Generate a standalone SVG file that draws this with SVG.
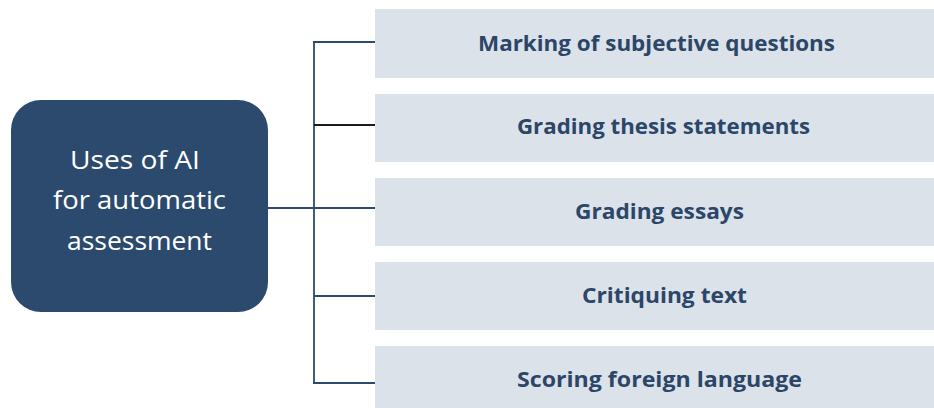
<svg xmlns="http://www.w3.org/2000/svg" width="934" height="408" viewBox="0 0 934 408">
<style>
.box{fill:#dbe2ea}
.lbl{font-family:"Open Sans","Lato",sans-serif;font-weight:bold;font-size:21px;fill:#2c4668;text-anchor:middle}
.main{font-family:"Open Sans","Lato",sans-serif;font-size:26px;fill:#ffffff;text-anchor:middle}
.conn{stroke:#2c4a6e;stroke-width:1.8;fill:none}
</style>
<rect width="934" height="408" fill="#ffffff"/>
<g id="connectors">
<line class="conn" x1="314" y1="42" x2="314" y2="383"/>
<line class="conn" x1="268" y1="208" x2="314" y2="208"/>
<line class="conn" x1="313" y1="42" x2="375" y2="42"/>
<line class="conn" x1="314" y1="125" x2="375" y2="125" style="stroke:#1a1a1a"/>
<line class="conn" x1="314" y1="208" x2="375" y2="208"/>
<line class="conn" x1="314" y1="296" x2="375" y2="296"/>
<line class="conn" x1="313" y1="383" x2="375" y2="383"/>
</g>
<g id="root">
<rect x="11" y="100" width="257" height="212" rx="30" fill="#2c4a6e"/>
<text class="main" x="135" y="169" textLength="130" lengthAdjust="spacingAndGlyphs">Uses of AI</text>
<text class="main" x="139.5" y="209" textLength="173" lengthAdjust="spacingAndGlyphs">for automatic</text>
<text class="main" x="139.5" y="250" textLength="145" lengthAdjust="spacingAndGlyphs">assessment</text>
</g>
<g id="n1"><rect class="box" x="375" y="9" width="559" height="69"/><text class="lbl" x="656.5" y="51" textLength="357" lengthAdjust="spacingAndGlyphs">Marking of subjective questions</text></g>
<g id="n2"><rect class="box" x="375" y="94" width="559" height="68"/><text class="lbl" x="663.5" y="134" textLength="293" lengthAdjust="spacingAndGlyphs">Grading thesis statements</text></g>
<g id="n3"><rect class="box" x="375" y="178" width="559" height="68"/><text class="lbl" x="659.5" y="219" textLength="169" lengthAdjust="spacingAndGlyphs">Grading essays</text></g>
<g id="n4"><rect class="box" x="375" y="262" width="559" height="68"/><text class="lbl" x="664.5" y="303" textLength="165" lengthAdjust="spacingAndGlyphs">Critiquing text</text></g>
<g id="n5"><rect class="box" x="375" y="346" width="559" height="62"/><text class="lbl" x="659.5" y="387" textLength="285" lengthAdjust="spacingAndGlyphs">Scoring foreign language</text></g>
</svg>
